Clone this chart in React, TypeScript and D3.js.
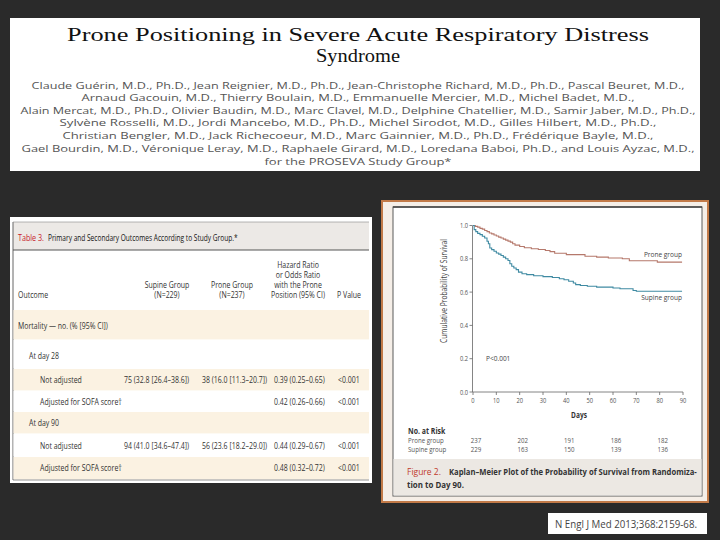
import * as d3 from 'd3';
import { useLayoutEffect, useRef, useState } from 'react';
import type { ReactNode } from 'react';

// ---- data ----
const titleLines = ['Prone Positioning in Severe Acute Respiratory Distress', 'Syndrome'];
const authorLines = [
  'Claude Guérin, M.D., Ph.D., Jean Reignier, M.D., Ph.D., Jean-Christophe Richard, M.D., Ph.D., Pascal Beuret, M.D.,',
  'Arnaud Gacouin, M.D., Thierry Boulain, M.D., Emmanuelle Mercier, M.D., Michel Badet, M.D.,',
  'Alain Mercat, M.D., Ph.D., Olivier Baudin, M.D., Marc Clavel, M.D., Delphine Chatellier, M.D., Samir Jaber, M.D., Ph.D.,',
  'Sylvène Rosselli, M.D., Jordi Mancebo, M.D., Ph.D., Michel Sirodot, M.D., Gilles Hilbert, M.D., Ph.D.,',
  'Christian Bengler, M.D., Jack Richecoeur, M.D., Marc Gainnier, M.D., Ph.D., Frédérique Bayle, M.D.,',
  'Gael Bourdin, M.D., Véronique Leray, M.D., Raphaele Girard, M.D., Loredana Baboi, Ph.D., and Louis Ayzac, M.D.,',
  'for the PROSEVA Study Group*',
];
const captionLines = ['Kaplan–Meier Plot of the Probability of Survival from Randomiza-', 'tion to Day 90.'];

// Kaplan-Meier steps (days, cumulative survival)
const proneDays = [0, 1, 2, 3, 4, 5, 6, 7, 8, 9, 10, 11, 12, 13, 14, 15, 16, 17, 18, 20, 22, 25, 28, 31, 33, 35, 40, 48, 53, 58, 64, 67, 79];
const proneSurv = [1, 0.995, 0.99, 0.983, 0.978, 0.97, 0.963, 0.955, 0.95, 0.943, 0.937, 0.93, 0.925, 0.918, 0.912, 0.906, 0.9, 0.89, 0.882, 0.874, 0.866, 0.86, 0.856, 0.85, 0.843, 0.833, 0.825, 0.815, 0.81, 0.805, 0.8, 0.788, 0.78];
const supineDays = [0, 0.5, 1.2, 2, 3, 4, 5, 6, 6.6, 7.2, 8, 9, 10, 11, 12, 13, 14, 15, 15.8, 16.6, 17.5, 18.5, 19.5, 21, 23, 26, 30, 34, 37, 39, 41, 43, 44, 46, 49, 53, 60, 63, 68.6, 70];
const supineSurv = [1, 0.975, 0.963, 0.953, 0.945, 0.935, 0.925, 0.905, 0.89, 0.865, 0.855, 0.845, 0.835, 0.828, 0.82, 0.81, 0.8, 0.79, 0.77, 0.755, 0.745, 0.735, 0.72, 0.71, 0.705, 0.698, 0.693, 0.688, 0.68, 0.674, 0.665, 0.655, 0.645, 0.64, 0.635, 0.63, 0.625, 0.62, 0.61, 0.605];

const yTicks = [0, 0.2, 0.4, 0.6, 0.8, 1.0];
const xTicks = [0, 10, 20, 30, 40, 50, 60, 70, 80, 90];
const riskDays = [0, 20, 40, 60, 80];
const proneRisk = [237, 202, 191, 186, 182];
const supineRisk = [229, 163, 150, 139, 136];

// table
const colHeadSupine = ['Supine Group', '(N=229)'];
const colHeadProne = ['Prone Group', '(N=237)'];
const colHeadHR = ['Hazard Ratio', 'or Odds Ratio', 'with the Prone', 'Position (95% CI)'];
const rowLabels = ['Mortality — no. (% [95% CI])', 'At day 28', 'Not adjusted', 'Adjusted for SOFA score†', 'At day 90', 'Not adjusted', 'Adjusted for SOFA score†'];
const rowIndent = [0, 1, 2, 2, 1, 2, 2];
const supineVals = ['', '', '75 (32.8 [26.4–38.6])', '', '', '94 (41.0 [34.6–47.4])', ''];
const proneVals = ['', '', '38 (16.0 [11.3–20.7])', '', '', '56 (23.6 [18.2–29.0])', ''];
const hrVals = ['', '', '0.39 (0.25–0.65)', '0.42 (0.26–0.66)', '', '0.44 (0.29–0.67)', '0.48 (0.32–0.72)'];
const pVals = ['', '', '<0.001', '<0.001', '', '<0.001', '<0.001'];

// ---- layout ----
const BG = '#2a2a2a';
const SANS = '"Open Sans", "Noto Sans", sans-serif';
const SERIF = '"Liberation Serif", "DejaVu Serif", serif';
const PRONE_COL = '#b5786b';
const SUPINE_COL = '#3f8aa2';

const rowY = [326, 356, 380, 402, 423, 446, 468];
const rowEdges = [310, 340, 369, 391, 412, 434, 457, 480];
const rowFill = ['#fbf2e2', '#ffffff', '#fbf2e2', '#ffffff', '#fbf2e2', '#ffffff', '#fbf2e2'];

// condensed text: the reference uses a narrow face, so squeeze a normal sans horizontally
type TProps = {
  x: number;
  y: number;
  size?: number;
  fill?: string;
  anchor?: 'start' | 'middle' | 'end';
  weight?: string;
  sx?: number;
  children: ReactNode;
};
const T = ({ x, y, size = 8.5, fill = '#333', anchor = 'start', weight = 'normal', sx = 0.82, children }: TProps) => (
  <text
    transform={`translate(${x},${y}) scale(${sx},1)`}
    textAnchor={anchor}
    fontSize={size}
    fill={fill}
    fontWeight={weight}
    fontFamily={SANS}
  >
    {children}
  </text>
);

// text squeezed to a given width (measured after mount)
const FitText = ({ x, y, width, size, fill, weight = 'normal', children }: { x: number; y: number; width: number; size: number; fill: string; weight?: string; children: ReactNode }) => {
  const ref = useRef<SVGTextElement>(null);
  const [sx, setSx] = useState(1);
  useLayoutEffect(() => {
    if (ref.current) {
      const w = ref.current.getComputedTextLength();
      if (w > 0) setSx(Math.min(1, width / w));
    }
  }, [width]);
  return (
    <text ref={ref} transform={`translate(${x},${y}) scale(${sx},1)`} fontSize={size} fill={fill} fontWeight={weight} fontFamily={SANS}>
      {children}
    </text>
  );
};

const KMFigure = () => {
  const x = d3.scaleLinear().domain([0, 90]).range([473, 683]);
  const y = d3.scaleLinear().domain([0, 1]).range([392, 225.5]);
  const line = d3
    .line<[number, number]>()
    .x((d) => x(d[0]))
    .y((d) => y(d[1]))
    .curve(d3.curveStepAfter);
  const pronePts: [number, number][] = proneDays.map((d, i) => [d, proneSurv[i]]);
  pronePts.push([89.6, proneSurv[proneSurv.length - 1]]);
  const supinePts: [number, number][] = supineDays.map((d, i) => [d, supineSurv[i]]);
  supinePts.push([89.6, supineSurv[supineSurv.length - 1]]);

  return (
    <g>
      {/* outer figure frame */}
      <rect x={382} y={201} width={326} height={301} fill="#f5eee7" stroke="#c27a48" strokeWidth={2} />
      <rect x={393} y={207} width={309} height={289} fill="#ffffff" stroke="#5a5a5a" strokeWidth={1} />
      <line x1={393} x2={702} y1={207} y2={207} stroke="#444" strokeWidth={1.5} />
      <rect x={393.5} y={459} width={308} height={36.5} fill="#ece8e3" />

      {/* axes */}
      <line x1={x(0) - 0.5} x2={x(0) - 0.5} y1={y(1)} y2={y(0)} stroke="#666" strokeWidth={0.8} />
      <line x1={x(0) - 0.5} x2={x(90)} y1={y(0)} y2={y(0)} stroke="#666" strokeWidth={0.8} />
      {yTicks.map((t) => (
        <g key={'y' + t}>
          <line x1={x(0) - 3.5} x2={x(0) - 0.5} y1={y(t)} y2={y(t)} stroke="#666" strokeWidth={0.8} />
          <T x={x(0) - 5} y={y(t) + 2.5} anchor="end" size={7} fill="#555">
            {t.toFixed(1)}
          </T>
        </g>
      ))}
      {xTicks.map((t) => (
        <g key={'x' + t}>
          <line x1={x(t)} x2={x(t)} y1={y(0)} y2={y(0) + 3} stroke="#666" strokeWidth={0.8} />
          <T x={x(t)} y={y(0) + 10.5} anchor="middle" size={7} fill="#555">
            {t}
          </T>
        </g>
      ))}
      <text
        transform="translate(447,291) rotate(-90)"
        textAnchor="middle"
        fontSize={8.5}
        fill="#444"
        fontFamily={SANS}
        textLength={104}
        lengthAdjust="spacingAndGlyphs"
      >
        Cumulative Probability of Survival
      </text>
      <T x={579} y={418} anchor="middle" size={8} weight="bold">
        Days
      </T>

      {/* curves */}
      <path d={line(pronePts) || ''} fill="none" stroke={PRONE_COL} strokeWidth={1.1} />
      <path d={line(supinePts) || ''} fill="none" stroke={SUPINE_COL} strokeWidth={1.1} />
      <T x={682} y={257} anchor="end" size={8} fill="#444">
        Prone group
      </T>
      <T x={682} y={300} anchor="end" size={8} fill="#444">
        Supine group
      </T>
      <T x={486} y={361} size={8} fill="#444">
        P&lt;0.001
      </T>

      {/* number at risk */}
      <T x={408} y={434} size={8.5} weight="bold">
        No. at Risk
      </T>
      <T x={408} y={443} size={7.5} fill="#555">
        Prone group
      </T>
      <T x={408} y={452} size={7.5} fill="#555">
        Supine group
      </T>
      {riskDays.map((d, i) => (
        <g key={'r' + d}>
          <T x={x(d) + 3} y={443} anchor="middle" size={7.5} fill="#555">
            {proneRisk[i]}
          </T>
          <T x={x(d) + 3} y={452} anchor="middle" size={7.5} fill="#555">
            {supineRisk[i]}
          </T>
        </g>
      ))}

      {/* caption */}
      <FitText x={407} y={474.5} width={40} size={8.5} fill="#c0392b">
        Figure 2.
      </FitText>
      <FitText x={449} y={474.5} width={248} size={8.5} fill="#333" weight="bold">
        {captionLines[0]}
      </FitText>
      <FitText x={407} y={487.5} width={57} size={8.5} fill="#333" weight="bold">
        {captionLines[1]}
      </FitText>
    </g>
  );
};

const OutcomeTable = () => {
  const colX = { label: 18, supine: 124, prone: 202, hr: 274, p: 338 };
  return (
    <g>
      <rect x={10} y={217} width={362} height={266} fill="#ffffff" />
      <rect x={13} y={222} width={356} height={28} fill="#ece9e6" />
      <line x1={13} x2={13} y1={222} y2={480} stroke="#666" strokeWidth={1} />
      <line x1={13} x2={369} y1={222} y2={222} stroke="#888" strokeWidth={0.6} />
      <line x1={13} x2={369} y1={250} y2={250} stroke="#555" strokeWidth={1} />
      <FitText x={18} y={241} width={26} size={9} fill="#c8202a">
        Table 3.
      </FitText>
      <FitText x={48} y={241} width={190} size={9} fill="#111">
        Primary and Secondary Outcomes According to Study Group.*
      </FitText>

      {/* column header */}
      {colHeadHR.map((s, i) => (
        <T key={s} x={298} y={268 + i * 10} anchor="middle">
          {s}
        </T>
      ))}
      {colHeadSupine.map((s, i) => (
        <T key={s} x={167} y={288 + i * 10} anchor="middle">
          {s}
        </T>
      ))}
      {colHeadProne.map((s, i) => (
        <T key={s} x={232} y={288 + i * 10} anchor="middle">
          {s}
        </T>
      ))}
      <T x={18} y={298}>Outcome</T>
      <T x={337} y={298}>P Value</T>

      {rowLabels.map((lab, i) => (
        <g key={'row' + i}>
          <rect x={13.5} y={rowEdges[i]} width={355.5} height={rowEdges[i + 1] - rowEdges[i] - 0.6} fill={rowFill[i]} />
          <T x={colX.label + rowIndent[i] * 11} y={rowY[i] + 3}>{lab}</T>
          <T x={colX.supine} y={rowY[i] + 3}>{supineVals[i]}</T>
          <T x={colX.prone} y={rowY[i] + 3}>{proneVals[i]}</T>
          <T x={colX.hr} y={rowY[i] + 3}>{hrVals[i]}</T>
          <T x={colX.p} y={rowY[i] + 3}>{pVals[i]}</T>
        </g>
      ))}
      <line x1={13} x2={369} y1={480} y2={480} stroke="#777" strokeWidth={0.8} />
    </g>
  );
};

const authorY = [85, 97.5, 110, 122.5, 135, 148, 161];
const authorLen = [653, 553, 675, 597, 591, 673, 187];

export default function App() {
  return (
    <div style={{ position: 'fixed', left: 0, top: 0, width: 720, height: 540 }}>
      <svg width={720} height={540} viewBox="0 0 720 540" style={{ display: 'block' }}>
        <rect x={0} y={0} width={720} height={540} fill={BG} />

        {/* title block */}
        <rect x={10} y={18} width={690} height={153} fill="#ffffff" />
        <text x={358} y={41} textAnchor="middle" fontSize={19.5} fill="#111" fontFamily={SERIF} textLength={582} lengthAdjust="spacingAndGlyphs">
          {titleLines[0]}
        </text>
        <text x={358} y={62} textAnchor="middle" fontSize={19.5} fill="#111" fontFamily={SERIF} textLength={84} lengthAdjust="spacingAndGlyphs">
          {titleLines[1]}
        </text>
        {authorLines.map((s, i) => (
          <text
            key={i}
            x={358}
            y={authorY[i] + 3.5}
            textAnchor="middle"
            fontSize={9.5}
            fill="#555"
            fontFamily={SANS}
            textLength={authorLen[i]}
            lengthAdjust="spacingAndGlyphs"
          >
            {s}
          </text>
        ))}

        <OutcomeTable />
        <KMFigure />

        {/* citation */}
        <rect x={548} y={513} width={159} height={21} fill="#ffffff" />
        <text x={555} y={527.5} fontSize={10} fill="#444" fontFamily={SANS} textLength={142} lengthAdjust="spacingAndGlyphs">
          N Engl J Med 2013;368:2159-68.
        </text>
      </svg>
    </div>
  );
}
